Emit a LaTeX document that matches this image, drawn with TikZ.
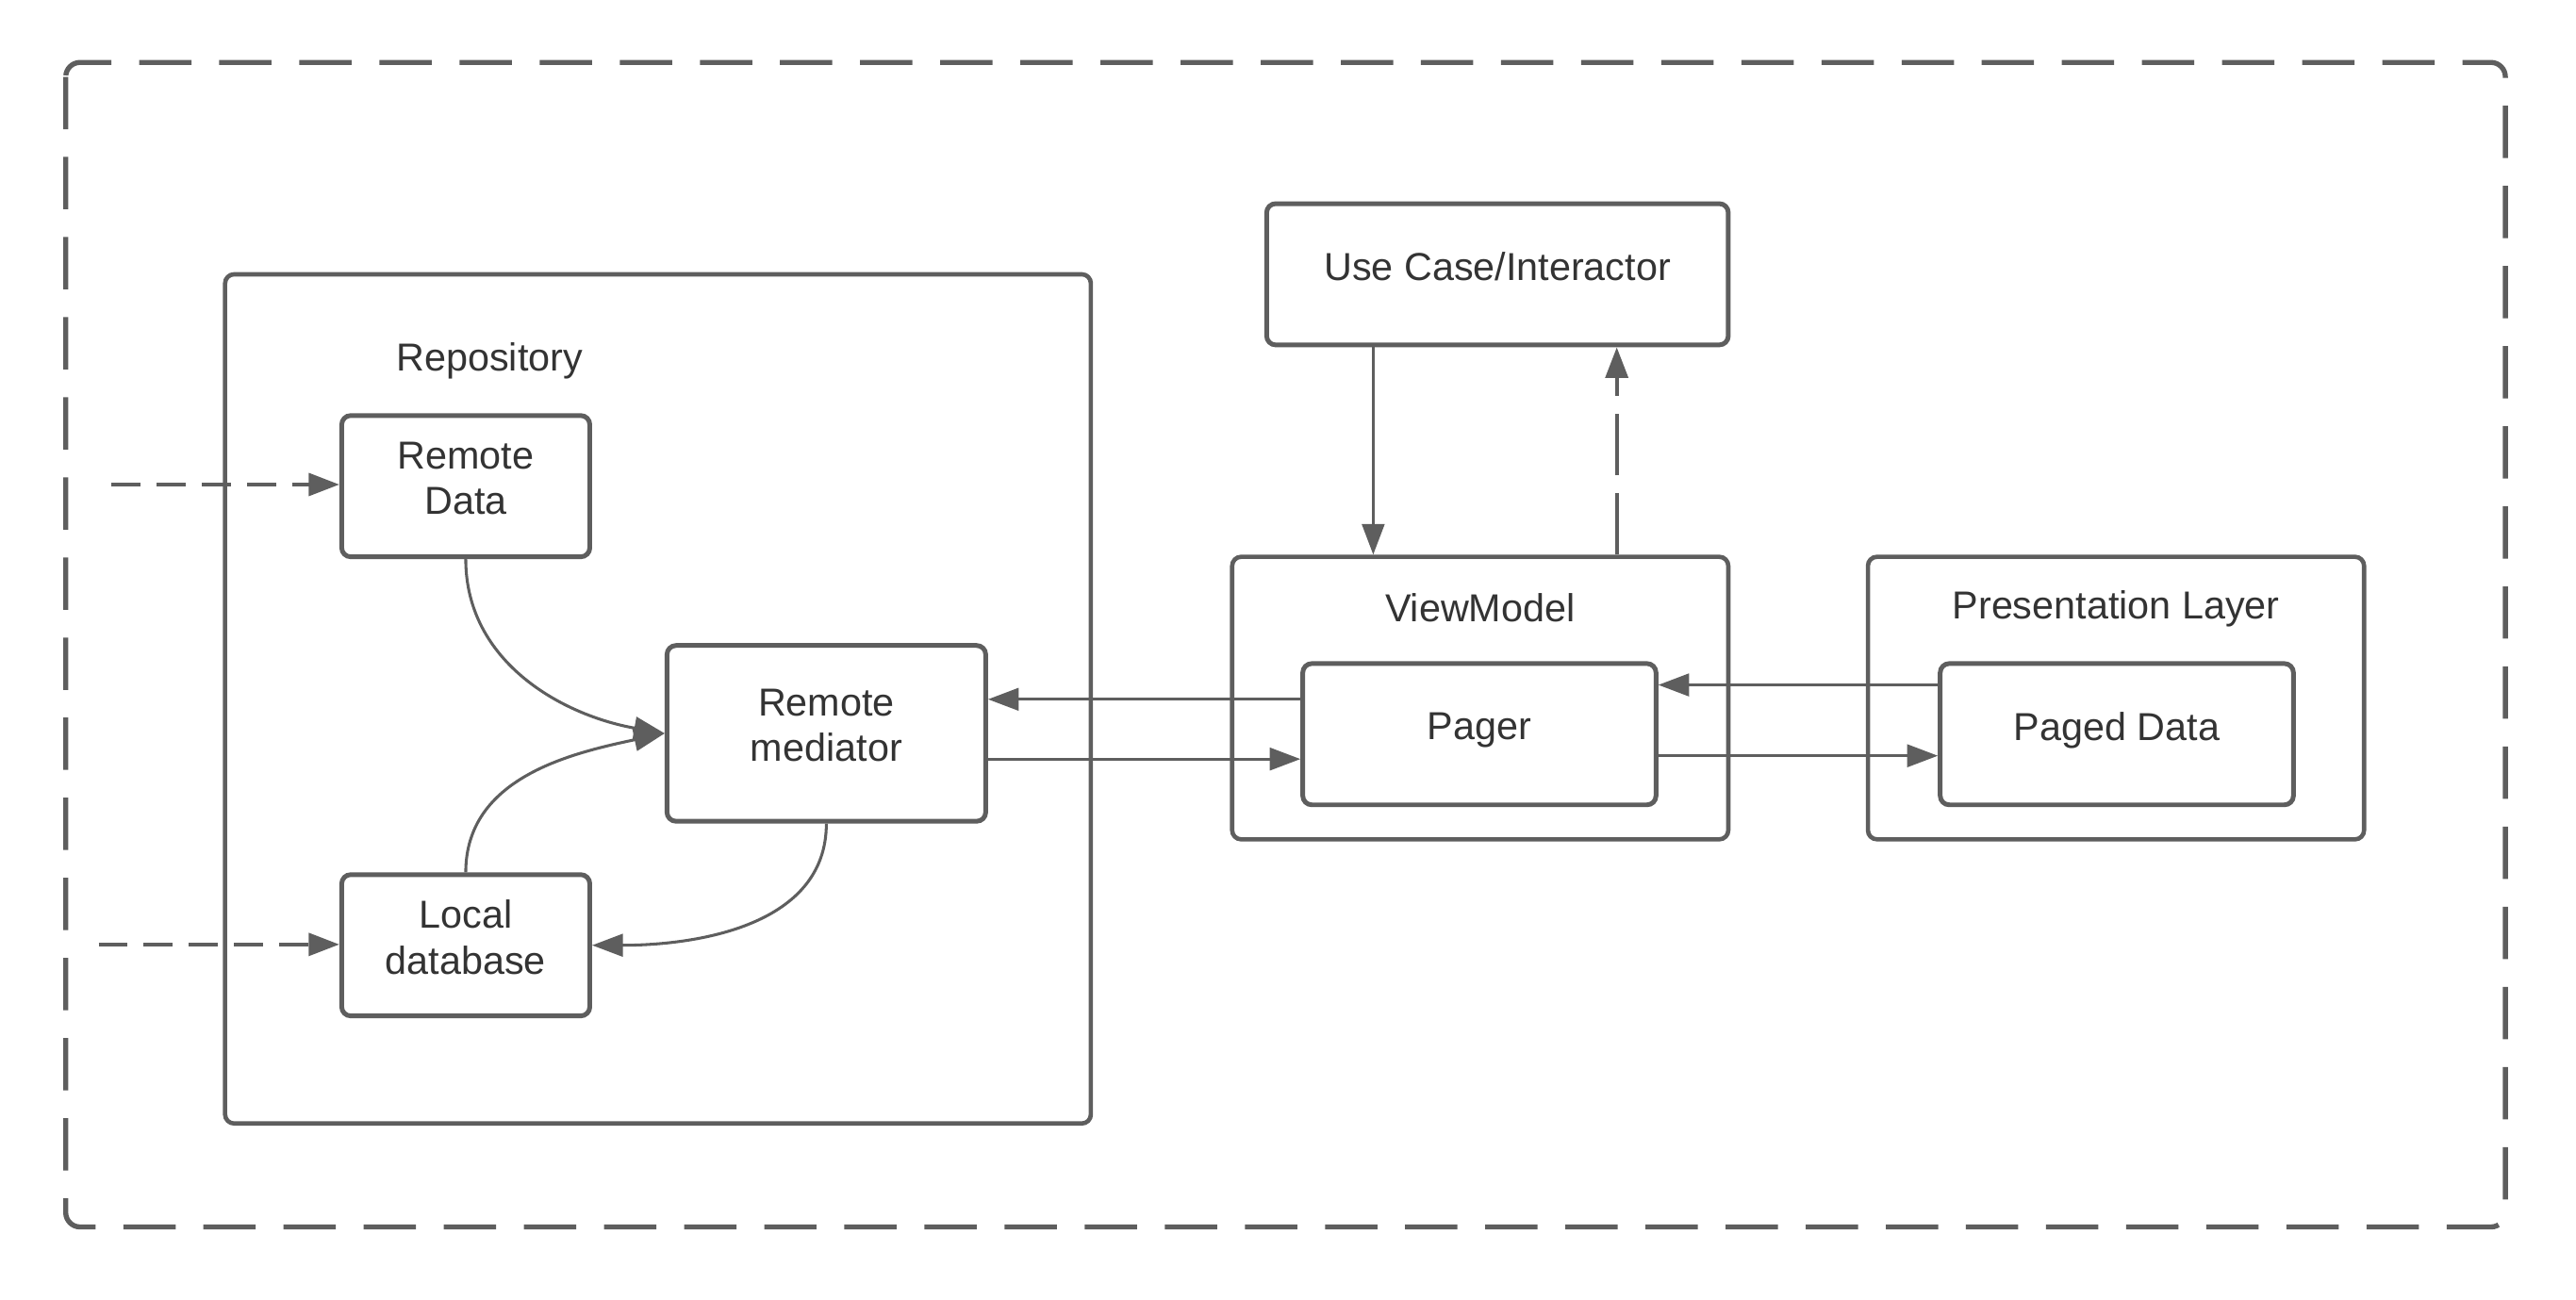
\documentclass[tikz,border=0pt]{standalone}
\usepackage{fontspec}
\setmainfont{Liberation Sans}
\usetikzlibrary{arrows.meta}
\definecolor{linegray}{HTML}{5E5E5E}
\definecolor{textgray}{HTML}{333333}

\begin{document}
\begin{tikzpicture}[
    font=\fontsize{10.8}{12.7}\selectfont, text=textgray,
    box/.style={rectangle, draw=linegray, line width=1.3pt, rounded corners=2.5pt,
                minimum width=2.416cm, minimum height=1.376cm, inner sep=0pt, align=center,
                text depth=4.5pt},
    frame/.style={rectangle, draw=linegray, line width=1.2pt, rounded corners=2.5pt, inner sep=0pt},
    caption/.style={inner sep=0pt},
    arrow/.style={draw=linegray, line width=0.8pt, -{Triangle[length=8.5pt,width=6.2pt]}},
    dasharrow/.style={arrow, line width=1.1pt, dash pattern=on 8pt off 4.5pt},
    dashvert/.style={arrow, line width=1.1pt, dash pattern=on 17pt off 5pt}
]
    \useasboundingbox (0,0) rectangle (25.088,-12.656);
    \draw [linegray, line width=1.4pt, dash pattern=on 14.5pt off 7.7pt, rounded corners=4pt]
        (0.64,-0.608) rectangle (24.4,-11.952);

    % repository
    \node [frame, minimum width=8.432cm, minimum height=8.272cm] (repo) at (6.408,-6.808) {};
    \node [caption] (repolbl) at (4.768,-3.52) {Repository};
    \node [box] (remote) at (4.536,-4.736) {Remote\\Data};
    \node [box] (local) at (4.536,-9.208) {Local\\database};
    \node [box, minimum width=3.104cm, minimum height=1.712cm] (med) at (8.048,-7.144) {Remote\\mediator};

    % view model and presentation
    \node [box, minimum width=4.496cm] (usecase) at (14.584,-2.672) {Use Case/Interactor};
    \node [frame, minimum width=4.832cm, minimum height=2.752cm] (vm) at (14.416,-6.8) {};
    \node [caption] (vmlbl) at (14.416,-5.92) {ViewModel};
    \node [box, minimum width=3.44cm] (pager) at (14.408,-7.152) {Pager};
    \node [frame, minimum width=4.832cm, minimum height=2.752cm] (pres) at (20.608,-6.8) {};
    \node [caption] (preslbl) at (20.608,-5.93) {Presentation Layer};
    \node [box, minimum width=3.44cm] (paged) at (20.616,-7.152) {Paged Data};

    \coordinate (inremote) at (1.088,-4.72);
    \coordinate (inlocal) at (0.96,-9.2);
    \draw [dasharrow] (inremote) -- (inremote -| remote.west);
    \draw [dasharrow] (inlocal) -- (inlocal -| local.west);

    \draw [arrow] (remote.south) to[out=-90, in=170] (med.west);
    \draw [arrow] (local.north) to[out=90, in=192] (med.west);
    \draw [arrow] (med.south) to[out=-90, in=0] (local.east);

    \draw [arrow] ([yshift=3.4mm]pager.west) -- ([yshift=3.4mm]pager.west -| med.east);
    \draw [arrow] ([yshift=-2.5mm]med.east) -- ([yshift=-2.5mm]med.east -| pager.west);
    \draw [arrow] ([yshift=4.8mm]paged.west) -- ([yshift=4.8mm]paged.west -| pager.east);
    \draw [arrow] ([yshift=-2.1mm]pager.east) -- ([yshift=-2.1mm]pager.east -| paged.west);

    \draw [arrow] ([xshift=-12.1mm]usecase.south) -- ([xshift=-12.1mm]usecase.south |- vm.north);
    \draw [dashvert] ([xshift=13.3mm]vm.north) -- ([xshift=13.3mm]vm.north |- usecase.south);
\end{tikzpicture}
\end{document}
